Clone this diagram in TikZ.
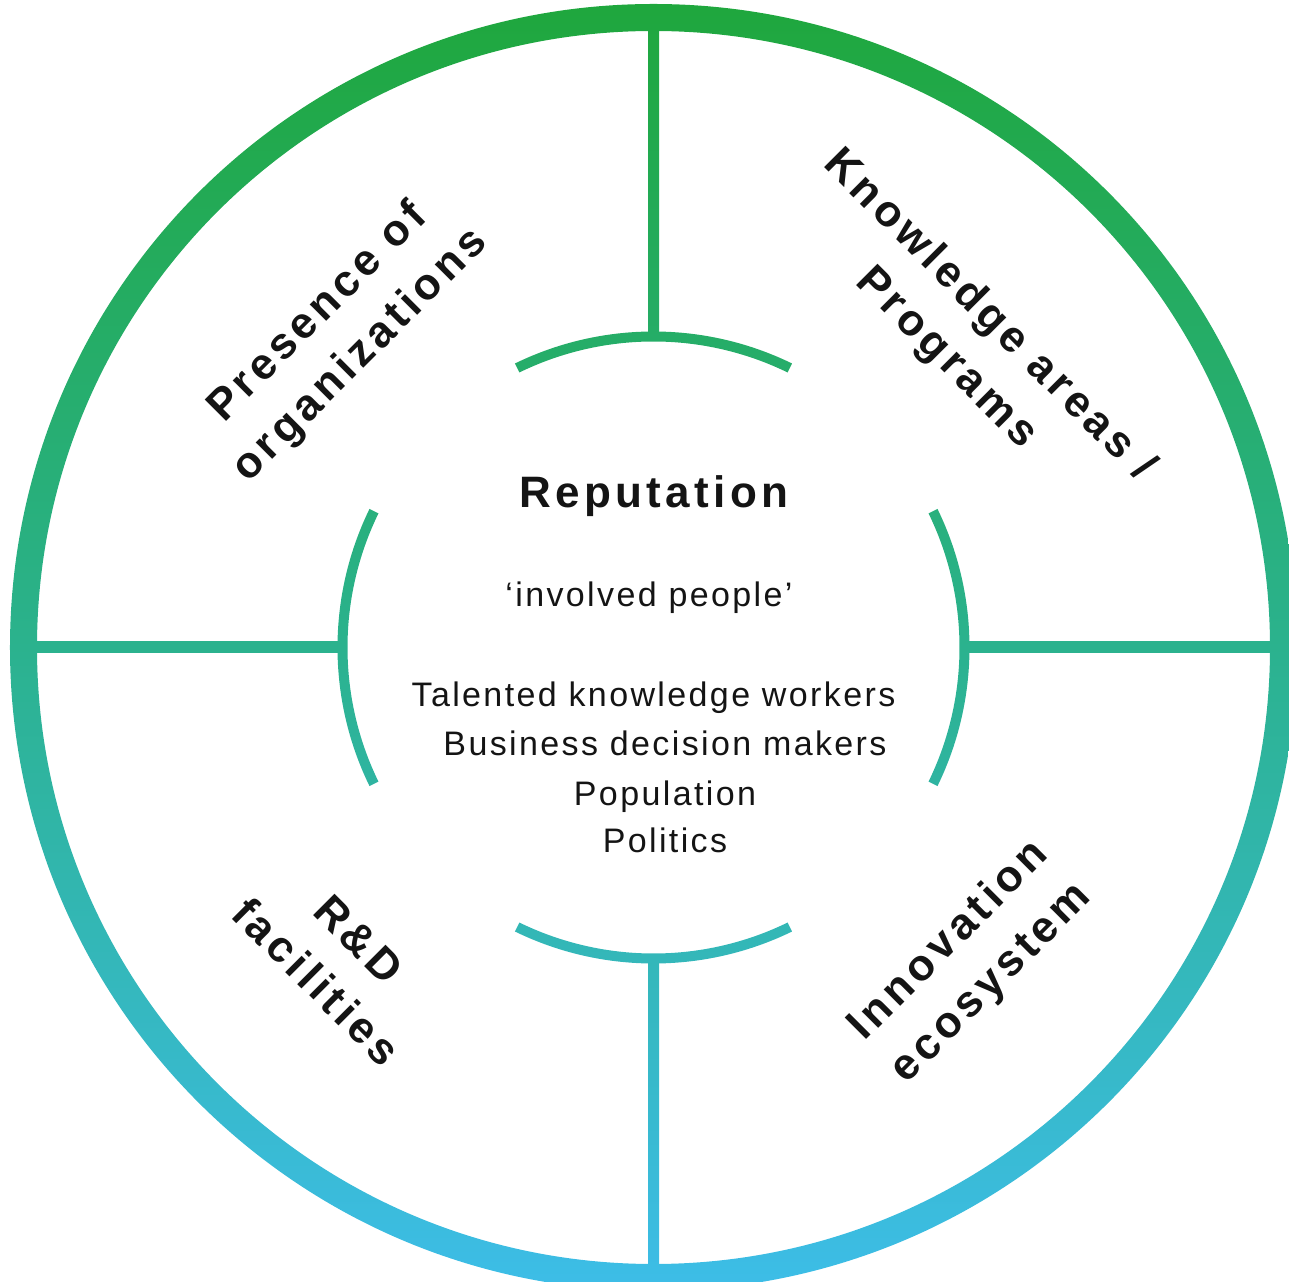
\documentclass[tikz,border=0pt]{standalone}
\usepackage{fontspec}
\setmainfont{Liberation Sans}
\newfontfamily\headfont[LetterSpace=10]{Liberation Sans}
\newfontfamily\bodyfont[LetterSpace=7]{Liberation Sans}
\definecolor{gTop}{HTML}{1FA73D}
\definecolor{gMid}{HTML}{2BB28E}
\definecolor{gBot}{HTML}{3DBDE8}
\definecolor{ink}{HTML}{141414}
\begin{document}
\begin{tikzpicture}[x=1pt,y=1pt,
  gradfill/.style={path picture={\shade[top color=gTop,bottom color=gBot,middle color=gMid] (-643.5,-643.5) rectangle (643.5,643.5);}},
  sector/.style={font=\headfont\bfseries\fontsize{44}{60}\selectfont, text=ink, align=center, inner sep=0pt},
  heading/.style={font=\headfont\bfseries\fontsize{44}{50}\selectfont, text=ink, anchor=base, inner sep=0pt},
  people/.style={font=\bodyfont\fontsize{34}{40}\selectfont, text=ink, anchor=base, inner sep=0pt}]
\useasboundingbox (-653.5,-633.5) rectangle (635.5,647.5);
% outer ring
\shade[top color=gTop,bottom color=gBot,middle color=gMid,even odd rule]
  (0,0) circle[radius=643.5] (0,0) circle[radius=616.5];
% spokes
\path[gradfill] (-5.5,308) rectangle (5.5,628);
\path[gradfill] (-5.5,-308) rectangle (5.5,-628);
\path[gradfill] (308,-5.5) rectangle (628,5.5);
\path[gradfill] (-308,-5.5) rectangle (-628,5.5);
% inner arcs
\foreach \a in {0,90,180,270}{
  \path[gradfill] ({\a-26}:316) arc[start angle={\a-26},end angle={\a+26},radius=316]
    -- ({\a+26}:306) arc[start angle={\a+26},end angle={\a-26},radius=306] -- cycle;
}
% sector labels
\node[sector, rotate=45]  (presence)   at (-314,313) {Presence of\\organizations};
\node[sector, rotate=-45] (knowledge)  at (314,310)  {Knowledge areas /\\Programs};
\node[sector, rotate=-45] (rd)         at (-316,-313) {R\&D\\facilities};
\node[sector, rotate=45]  (innovation) at (317,-315) {Innovation\\ecosystem};
% centre texts
\node[heading] (reputation) at (0.5,139.5) {Reputation};
\node[people] (involved) at (-4.5,40.5) {‘involved people’};
\node[people] (talented) at (0,-59.5) {Talented knowledge workers};
\node[people] (business) at (11.5,-107.5) {Business decision makers};
\node[people] (population) at (11.5,-157.5) {Population};
\node[people] (politics) at (11.5,-204.5) {Politics};
\end{tikzpicture}
\end{document}
